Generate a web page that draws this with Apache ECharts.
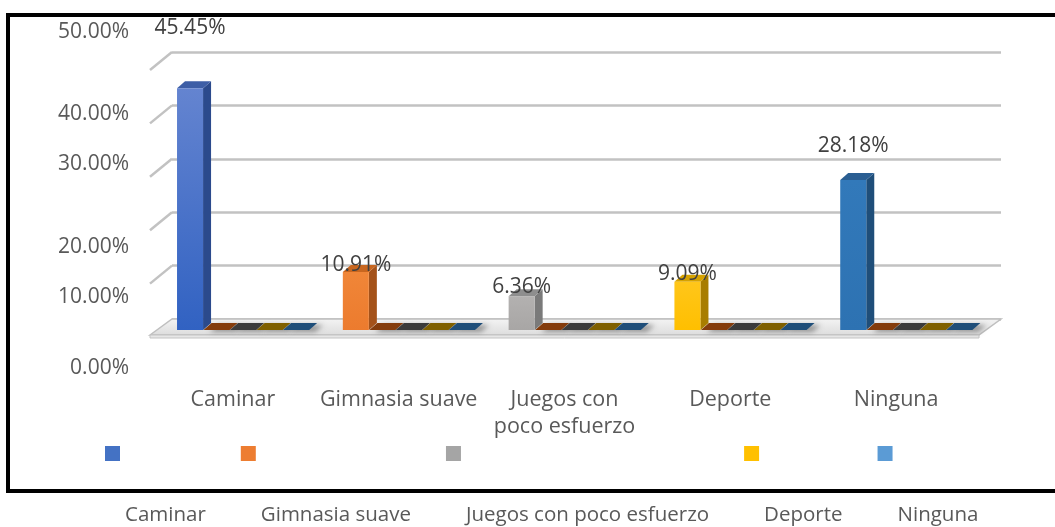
<!DOCTYPE html>
<html>
<head>
<meta charset="utf-8">
<script src="https://cdn.jsdelivr.net/npm/echarts@6/dist/echarts.min.js"></script>
<style>
html,body{margin:0;padding:0;background:#ffffff;}
#main{width:1055px;height:527px;}
</style>
</head>
<body>
<div id="main"></div>
<script>
// ---- data ----
const categories = ['Caminar', 'Gimnasia suave', 'Juegos con poco esfuerzo', 'Deporte', 'Ninguna'];
const percentValues = [45.45, 10.91, 6.36, 9.09, 28.18];
// four further (empty) series that Excel draws as flat strips after each bar
const seriesB = [0, 0, 0, 0, 0];
const seriesC = [0, 0, 0, 0, 0];
const seriesD = [0, 0, 0, 0, 0];
const seriesE = [0, 0, 0, 0, 0];
const yTicks = [0, 10, 20, 30, 40, 50];

// ---- styling ----
const FONT = '"Open Sans", "Liberation Sans", sans-serif';
const NUM_SIZE = 21;
const barPalettes = [
  { front: ['#6484d0', '#3162c2'], side: '#2b4a8c', top: '#3d5ea6' },
  { front: ['#f08638', '#ec7b2e'], side: '#a4521a', top: '#c8661f' },
  { front: ['#b3b1b0', '#a8a6a5'], side: '#7a7a7a', top: '#8e8e8e' },
  { front: ['#ffc61a', '#ffbf00'], side: '#a87d00', top: '#d6a200' },
  { front: ['#3279ba', '#2d72b2'], side: '#1f4e79', top: '#2a5e92' }
];
const legendColors = ['#4472c4', '#ed7d31', '#a5a5a5', '#ffc000', '#5b9bd5'];
const stripColors = ['#843c0c', '#3b3b3b', '#7f6000', '#1f4e79'];
const labelLift = [60, 7, 9, 8, 34];
const DX = 8, DY = 7;        // bar depth
const WX = 22, WY = 18;      // wall depth

function slotGeom(api, slot) {
  const cat = api.value(0), val = api.value(1);
  const topPt = api.coord([cat, val]);
  const basePt = api.coord([cat, 0]);
  const band = api.size([1, 0])[0];
  const x = basePt[0] - band / 2 + band * 0.163 + slot * band * 0.16;
  const w = band * 0.157;
  return { x, w, yt: topPt[1], yb: basePt[1], val };
}

function barRenderer(idx) {
  const pal = barPalettes[idx];
  return function (params, api) {
    const g = slotGeom(api, 0);
    const { x, w, yt, yb } = g;
    return {
      type: 'group',
      children: [
        { type: 'polygon', shape: { points: [[x + w, yt], [x + w + DX, yt - DY], [x + w + DX, yb - DY], [x + w, yb]] }, style: { fill: pal.side } },
        { type: 'polygon', shape: { points: [[x, yt], [x + w, yt], [x + w + DX, yt - DY], [x + DX, yt - DY]] }, style: { fill: pal.top } },
        { type: 'rect', shape: { x: x, y: yt, width: w, height: yb - yt }, style: { fill: { type: 'linear', x: 0, y: 0, x2: 0, y2: 1, colorStops: [{ offset: 0, color: pal.front[0] }, { offset: 1, color: pal.front[1] }] } } },
        { type: 'text', x: x + w / 2, y: yt - labelLift[idx], style: { text: g.val.toFixed(2) + '%', fill: '#404040', fontSize: NUM_SIZE, fontFamily: FONT, align: 'center', verticalAlign: 'middle' } }
      ]
    };
  };
}

function stripRenderer(k) {
  return function (params, api) {
    const { x, w, yb } = slotGeom(api, k + 1);
    return {
      type: 'polygon',
      shape: { points: [[x, yb], [x + w, yb], [x + w + DX, yb - DY], [x + DX, yb - DY]] },
      style: { fill: stripColors[k], shadowColor: 'rgba(0,0,0,0.35)', shadowBlur: 5, shadowOffsetX: 6, shadowOffsetY: 2 }
    };
  };
}

const series = [];
// floor
series.push({
  type: 'custom', name: 'floor', coordinateSystem: 'cartesian2d', xAxisIndex: 0, yAxisIndex: 0, z: 1, silent: true,
  data: [[0, 0]],
  renderItem: function (params, api) {
    const cs = params.coordSys;
    const y0 = api.coord([0, 0])[1];
    return {
      type: 'group',
      children: [
        { type: 'polygon', shape: { points: [[cs.x, y0 + 5], [cs.x + WX, y0 - 11], [cs.x + cs.width + WX, y0 - 11], [cs.x + cs.width, y0 + 5]] },
          style: { fill: { type: 'linear', x: 0, y: 0, x2: 0, y2: 1, colorStops: [{ offset: 0, color: '#f4f4f4' }, { offset: 1, color: '#dcdcdc' }] }, stroke: '#bfbfbf', lineWidth: 1.5 } },
        { type: 'rect', shape: { x: cs.x, y: y0 + 5, width: cs.width, height: 3 }, style: { fill: '#e6e6e6', stroke: '#c4c4c4', lineWidth: 1 } }
      ]
    };
  }
});
// side wall diagonals
series.push({
  type: 'custom', name: 'wall', coordinateSystem: 'cartesian2d', xAxisIndex: 1, yAxisIndex: 1, z: 1, silent: true,
  data: yTicks.filter(v => v > 0).map(v => [0, v]),
  renderItem: function (params, api) {
    const cs = params.coordSys;
    const y = api.coord([0, api.value(1)])[1];
    return { type: 'line', shape: { x1: cs.x, y1: y, x2: cs.x - WX, y2: y + WY }, style: { stroke: '#c2c2c2', lineWidth: 2.5 } };
  }
});
// empty series strips
[seriesB, seriesC, seriesD, seriesE].forEach(function (arr, k) {
  series.push({
    type: 'custom', name: 'serie' + (k + 2), coordinateSystem: 'cartesian2d', xAxisIndex: 0, yAxisIndex: 0, z: 2, silent: true,
    data: arr.map((v, j) => [j, v]),
    renderItem: stripRenderer(k)
  });
});
// the bars, one per category (legend entries)
categories.forEach(function (name, i) {
  series.push({
    type: 'custom', name: name, coordinateSystem: 'cartesian2d', xAxisIndex: 0, yAxisIndex: 0, z: 3,
    itemStyle: { color: legendColors[i] },
    data: [[i, percentValues[i]]],
    renderItem: barRenderer(i)
  });
});

function wrapLabel(v) {
  if (v.length <= 16) return v;
  const mid = v.length / 2;
  let best = -1;
  for (let i = 0; i < v.length; i++) {
    if (v[i] === ' ' && (best < 0 || Math.abs(i - mid) < Math.abs(best - mid))) best = i;
  }
  return best < 0 ? v : v.slice(0, best) + '\n' + v.slice(best + 1);
}

const yLabelRich = {
  o0: { padding: [76, 0, 0, 0] },
  o10: { padding: [41, 0, 0, 0] },
  o20: { padding: [46, 0, 0, 0] },
  o30: { padding: [0, 0, 13, 0] },
  o40: { padding: [0, 0, 6, 0] },
  o50: { padding: [0, 0, 64, 0] }
};
Object.keys(yLabelRich).forEach(k => Object.assign(yLabelRich[k], { fontSize: NUM_SIZE, fontFamily: FONT, color: '#595959' }));

const option = {
  animation: false,
  backgroundColor: '#ffffff',
  grid: [
    { left: 150, right: 76, top: 64, bottom: 197 },
    { left: 172, right: 54, top: 52, bottom: 208 }
  ],
  xAxis: [
    { type: 'category', gridIndex: 0, data: categories, axisLine: { show: false }, axisTick: { show: false }, splitLine: { show: false },
      axisLabel: { interval: 0, margin: 56, fontSize: 21.5, lineHeight: 27, color: '#595959', fontFamily: FONT, formatter: wrapLabel } },
    { type: 'category', gridIndex: 1, data: categories, show: false }
  ],
  yAxis: [
    { type: 'value', gridIndex: 0, min: yTicks[0], max: yTicks[yTicks.length - 1], interval: 10,
      axisLine: { show: false }, axisTick: { show: false }, splitLine: { show: false },
      axisLabel: { margin: 21, fontSize: NUM_SIZE, fontFamily: FONT, color: '#595959',
        formatter: v => '{o' + v + '|' + v.toFixed(2) + '%}', rich: yLabelRich } },
    { type: 'value', gridIndex: 1, min: yTicks[0], max: yTicks[yTicks.length - 1], interval: 10,
      axisLine: { show: false }, axisTick: { show: false }, axisLabel: { show: false },
      splitLine: { show: true, lineStyle: { color: '#c2c2c2', width: 2.5 } } }
  ],
  legend: {
    data: categories.map((n, i) => ({ name: n, itemStyle: { color: legendColors[i] } })),
    left: 105, top: 446, padding: 0, itemWidth: 15, itemHeight: 15, itemGap: 35, icon: 'rect', selectedMode: false,
    formatter: '{t|{name}}',
    textStyle: { fontFamily: FONT, fontSize: 20.5, color: '#595959',
      rich: { t: { fontFamily: FONT, fontSize: 20.5, color: '#595959', padding: [124, 0, 0, 0] } } }
  },
  graphic: [
    { type: 'rect', z: 100, silent: true, shape: { x: 8, y: 15, width: 1100, height: 476 }, style: { fill: 'none', stroke: '#000000', lineWidth: 4 } }
  ],
  series: series
};

const chart = echarts.init(document.getElementById('main'), null, { renderer: 'canvas' });
chart.setOption(option);
</script>
</body>
</html>
